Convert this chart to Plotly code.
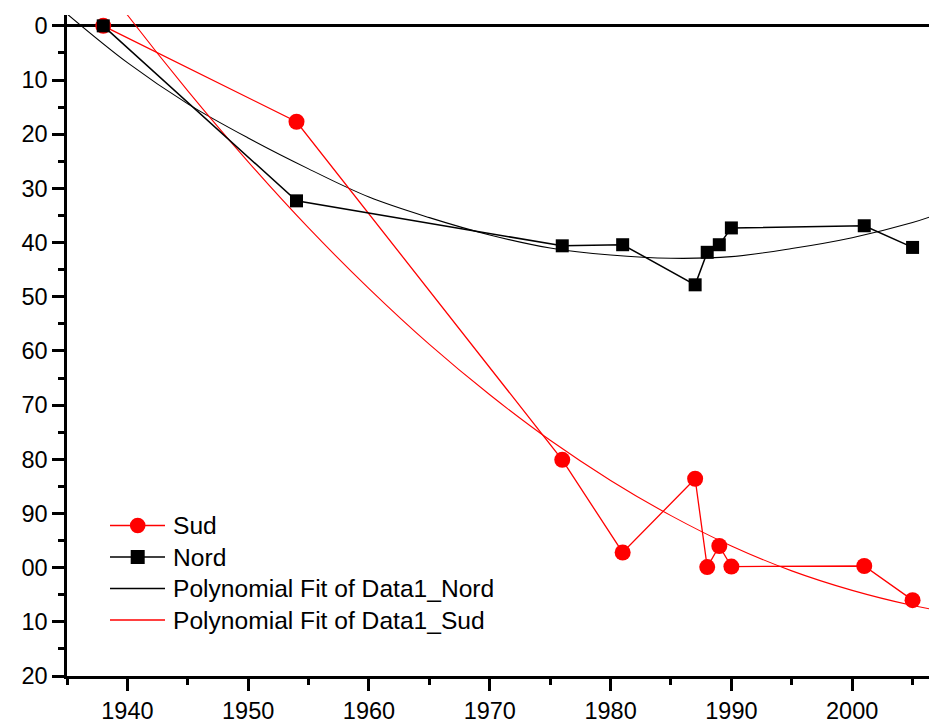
import plotly.graph_objects as go

# Measured series
years = [1938, 1954, 1976, 1981, 1987, 1988, 1989, 1990, 2001, 2005]
sud = [0, 17.7, 80.1, 97.2, 83.6, 99.9, 96.0, 99.8, 99.7, 106.0]
nord = [0, 32.3, 40.6, 40.4, 47.8, 41.8, 40.4, 37.3, 36.9, 40.9]

# Polynomial fit curves (sampled along the fitted line)
fit_years = [1935, 1940, 1945, 1950, 1955, 1960, 1965, 1970, 1975, 1980,
             1985, 1990, 1995, 2000, 2005, 2006.4]
fit_nord = [-2.2, 6.8, 14.4, 20.7, 26.4, 31.6, 35.4, 38.6, 41.0, 42.3,
            42.9, 42.6, 41.1, 39.1, 36.3, 35.3]
fit_sud = [-17.0, -2.0, 12.0, 25.1, 37.3, 48.5, 58.8, 68.1, 76.5, 83.9,
           90.4, 96.0, 100.6, 104.2, 107.0, 107.6]

# Depth axis ticks (labels as printed on the axis)
y_tickvals = [0, 10, 20, 30, 40, 50, 60, 70, 80, 90, 100, 110, 120]
y_ticktext = ["0", "10", "20", "30", "40", "50", "60", "70", "80", "90", "00", "10", "20"]
y_minorvals = [5, 15, 25, 35, 45, 55, 65, 75, 85, 95, 105, 115]

# Legend entries: label, colour, symbol
legend_names = ["Sud", "Nord", "Polynomial Fit of Data1_Nord", "Polynomial Fit of Data1_Sud"]
legend_colors = ["#FF0000", "black", "black", "#FF0000"]
legend_symbols = ["circle", "square", None, None]

FONT = "Arial, Liberation Sans, sans-serif"
W, H = 929, 724
M_L, M_R, M_T, M_B = 67, 0, 15, 48
PLOT_W = W - M_L - M_R
PLOT_H = H - M_T - M_B


def px_x(px):
    return (px - M_L) / PLOT_W


def px_y(py):
    return (H - M_B - py) / PLOT_H


fig = go.Figure()

fig.add_trace(go.Scatter(
    x=fit_years, y=fit_nord, mode="lines", name=legend_names[2],
    line=dict(color="black", width=1.1, shape="spline", smoothing=1.0),
))
fig.add_trace(go.Scatter(
    x=fit_years, y=fit_sud, mode="lines", name=legend_names[3],
    line=dict(color="#FF0000", width=1.1, shape="spline", smoothing=1.0),
))
fig.add_trace(go.Scatter(
    x=years, y=sud, mode="lines+markers", name=legend_names[0],
    line=dict(color="#FF0000", width=1.3),
    marker=dict(symbol="circle", size=16, color="#FF0000", line=dict(width=0)),
))
fig.add_trace(go.Scatter(
    x=years, y=nord, mode="lines+markers", name=legend_names[1],
    line=dict(color="black", width=1.5),
    marker=dict(symbol="square", size=13, color="black", line=dict(width=0)),
))

# Hand-laid legend block in the lower-left corner of the plot
shapes = []
annotations = []
row_y = [525.5, 557, 588.5, 620]
for name, color, sym, ry in zip(legend_names, legend_colors, legend_symbols, row_y):
    shapes.append(dict(type="line", xref="paper", yref="paper",
                       x0=px_x(110), x1=px_x(165), y0=px_y(ry), y1=px_y(ry),
                       line=dict(color=color, width=1.3)))
    if sym == "circle":
        r = 7.8
        shapes.append(dict(type="circle", xref="paper", yref="paper",
                           x0=px_x(137.7 - r), x1=px_x(137.7 + r),
                           y0=px_y(ry + r), y1=px_y(ry - r),
                           fillcolor=color, line=dict(width=0)))
    elif sym == "square":
        r = 7
        shapes.append(dict(type="rect", xref="paper", yref="paper",
                           x0=px_x(137.7 - r), x1=px_x(137.7 + r),
                           y0=px_y(ry + r), y1=px_y(ry - r),
                           fillcolor=color, line=dict(width=0)))
    annotations.append(dict(xref="paper", yref="paper", x=px_x(170.5), y=px_y(ry),
                            xanchor="left", yanchor="middle", showarrow=False,
                            text=name, font=dict(family=FONT, size=24.6, color="black")))

fig.update_layout(
    width=W, height=H,
    margin=dict(l=M_L, r=M_R, t=M_T, b=M_B),
    paper_bgcolor="white", plot_bgcolor="white",
    font=dict(family=FONT, size=23.5, color="black"),
    showlegend=False,
    shapes=shapes,
    annotations=annotations,
    xaxis=dict(
        range=[1935, 2006.36], showgrid=False, zeroline=False,
        showline=True, linecolor="black", linewidth=2.5,
        ticks="outside", ticklen=12, tickwidth=2.5, tickcolor="black",
        tickmode="linear", tick0=1940, dtick=10,
        minor=dict(tickmode="linear", tick0=1935, dtick=5, ticks="outside",
                   ticklen=6, tickwidth=2.5, tickcolor="black", showgrid=False),
        tickfont=dict(family=FONT, size=23.5, color="black"),
    ),
    yaxis=dict(
        range=[120, -2], showgrid=False,
        zeroline=True, zerolinecolor="black", zerolinewidth=3,
        showline=True, linecolor="black", linewidth=2.5,
        ticks="outside", ticklen=12, tickwidth=2.5, tickcolor="black",
        tickmode="array", tickvals=y_tickvals, ticktext=y_ticktext,
        minor=dict(tickmode="array", tickvals=y_minorvals, ticks="outside",
                   ticklen=6, tickwidth=2.5, tickcolor="black", showgrid=False),
        tickfont=dict(family=FONT, size=23.5, color="black"),
    ),
)

fig.write_html("out.html")
